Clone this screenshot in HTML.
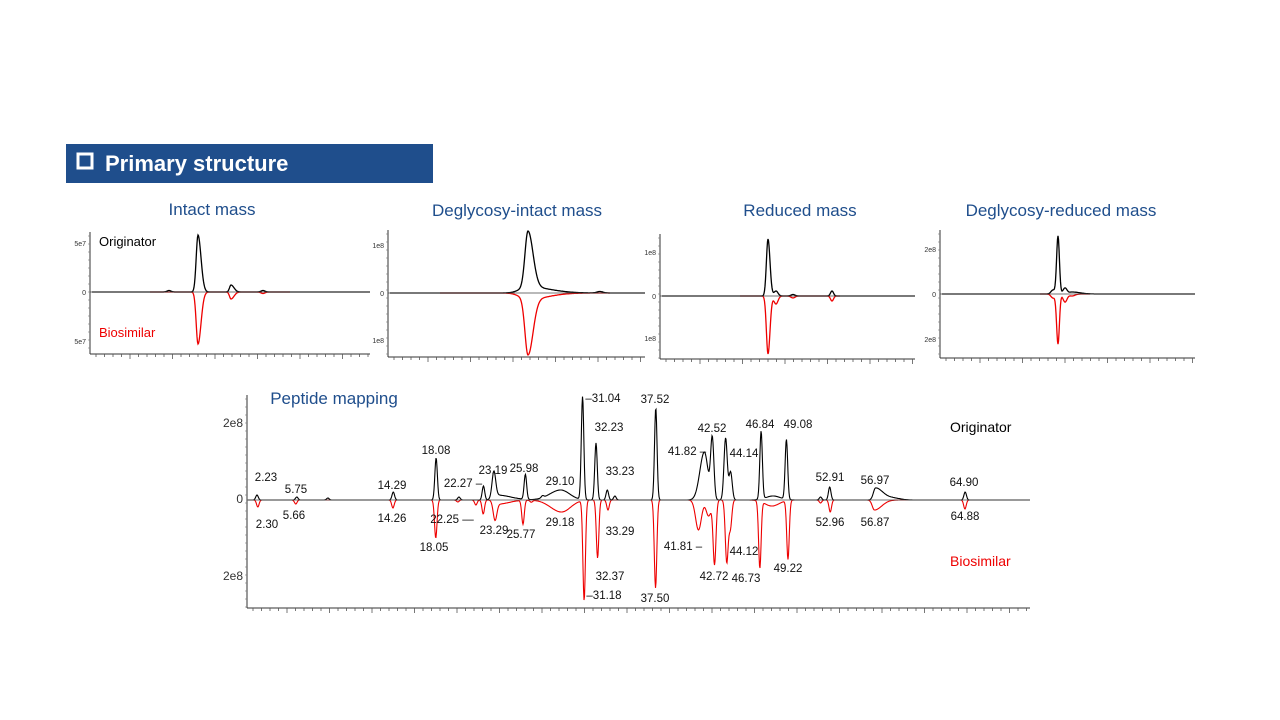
<!DOCTYPE html>
<html><head><meta charset="utf-8"><style>
body{margin:0;background:#fff;width:1280px;height:720px;overflow:hidden;font-family:"Liberation Sans","Noto Sans CJK SC",sans-serif}
svg{position:absolute;left:0;top:0}
</style></head><body>
<svg id="s" width="1280" height="720" xmlns="http://www.w3.org/2000/svg" font-family="Liberation Sans, sans-serif">
<rect x="66" y="144" width="367" height="39" fill="#1F4E8C"/>
<rect x="78" y="154" width="14" height="14" fill="none" stroke="#fff" stroke-width="3"/>
<text x="105" y="171" fill="#fff" font-size="22" font-weight="bold">Primary structure</text>
<g fill="#1F4E8C" font-size="17" text-anchor="middle">
<text x="212" y="215">Intact mass</text>
<text x="517" y="216">Deglycosy-intact mass</text>
<text x="800" y="216">Reduced mass</text>
<text x="1061" y="216">Deglycosy-reduced mass</text>
<text x="334" y="404" text-anchor="middle">Peptide mapping</text>
</g>
<text x="99" y="246" font-size="13" fill="#000">Originator</text>
<text x="99" y="337" font-size="13" fill="#e00">Biosimilar</text>
<text x="950" y="432" font-size="14" fill="#000">Originator</text>
<text x="950" y="566" font-size="14" fill="#e00">Biosimilar</text>
<g id="g"></g>
</svg>
<script>
var g=document.getElementById('g'),NS='http://www.w3.org/2000/svg';
function el(t,a,txt){var e=document.createElementNS(NS,t);for(var k in a)e.setAttribute(k,a[k]);if(txt)e.textContent=txt;g.appendChild(e);return e;}
function trace(x0,x1,base,peaks,sign,color,sw){
 var d='';for(var x=x0;x<=x1;x+=0.5){var y=0;peaks.forEach(function(p){var w=x<p[0]?p[2]:(p[3]||p[2]);var u=(x-p[0])/w;y+=p[1]*Math.exp(-u*u/2);});d+=(d?'L':'M')+x.toFixed(1)+' '+(base-sign*y).toFixed(1);}
 el('path',{d:d,fill:'none',stroke:color,'stroke-width':sw||1.3});
}
function axes(ax,yt,yb,xe,base,labs,lab){
 el('line',{x1:ax,y1:yt,x2:ax,y2:yb,stroke:'#333','stroke-width':1});
 el('line',{x1:ax,y1:yb,x2:xe,y2:yb,stroke:'#333','stroke-width':1});
 for(var x=ax+6;x<xe;x+=8.5)el('line',{x1:x,y1:yb,x2:x,y2:yb+(Math.round((x-ax)/8.5)%5==0?5:3),stroke:'#555','stroke-width':0.8});
 for(var y=yt+4;y<yb;y+=8)el('line',{x1:ax-2,y1:y,x2:ax,y2:y,stroke:'#777','stroke-width':0.6});
 labs.forEach(function(l){el('text',{x:ax-4,y:l[0]+3,'font-size':lab||7,'text-anchor':'end',fill:'#333'},l[1]);});
}
// small charts
axes(90,232,354,370,292,[[243,'5e7'],[292,'0'],[341,'5e7']]);
trace(150,290,292,[[198,52,1.8,3],[231,7,1.5,3],[263,1.5,2]],-1,'#e00');
trace(92,370,292,[[198,57,1.8,3],[231,7,1.5,3],[169,1.5,2],[263,1.5,2]],1,'#000');
el('line',{x1:90,y1:292,x2:370,y2:292,stroke:'#444','stroke-width':0.8});
axes(388,230,357,645,293,[[245,'1e8'],[293,'0'],[340,'1e8']]);
trace(440,610,293,[[528,56,3,5],[528,6,8,20]],-1,'#e00');
trace(390,645,293,[[528,56,3,5],[528,6,8,22],[600,1.5,3]],1,'#000');
el('line',{x1:388,y1:293,x2:645,y2:293,stroke:'#444','stroke-width':0.8});
axes(660,234,359,915,296,[[252,'1e8'],[296,'0'],[338,'1e8']]);
trace(740,840,296,[[768,58,1.6,2],[776,8,2],[793,2,2],[832,5,1.5]],-1,'#e00');
trace(662,915,296,[[768,57,1.6,2],[776,5,2],[793,1.5,2],[832,5,1.5]],1,'#000');
el('line',{x1:660,y1:296,x2:915,y2:296,stroke:'#444','stroke-width':0.8});
axes(940,230,358,1195,294,[[249,'2e8'],[294,'0'],[339,'2e8']]);
trace(1040,1090,294,[[1058,50,1.4,1.4],[1053,4,2],[1065,8,2],[1072,2,3]],-1,'#e00');
trace(942,1195,294,[[1058,58,1.4,1.4],[1053,4,2],[1065,6,2],[1072,2,3,8]],1,'#000');
el('line',{x1:940,y1:294,x2:1195,y2:294,stroke:'#444','stroke-width':0.8});
// peptide
axes(247,395,608,1030,500,[[424,'2e8'],[500,'0'],[577,'2e8']],12);
function X(t){return 257+(t-2.23)*11.3;}
var up=[[2.23,5],[5.75,3],[8.5,2],[14.29,8],[18.08,42],[20.1,3],[22.27,14],[23.19,25,1,1],[23.4,5,2,8],[25.98,25],[27.5,2],[29.1,10,6,5],[31.04,103],[32.23,57],[33.23,10],[33.9,4],[37.52,92],[41.82,48,2.5,2],[42.52,60,0.9],[43.7,62,0.9],[44.14,28,0.9],[46.84,68],[47.9,4,4],[49.08,60],[52.1,3],[52.91,13],[56.97,12,1.2,4],[58.5,2,4],[64.9,8]];
var dn=[[2.3,7],[5.66,4],[14.26,8],[18.05,38],[20,2],[21.6,5],[22.25,14],[23.29,18,1,1],[23.6,4,2,6],[25.77,24],[26.5,2],[29.18,12,6,5],[31.18,100],[32.37,58],[33.29,10],[37.5,88],[41.3,30,1.6,1.6],[42.2,16,1.4],[42.72,64,0.8],[43.8,62,0.8],[44.12,28,0.8],[46.73,67],[47.8,6,4],[49.22,59],[52.96,12],[52.1,3],[56.87,10,1.2,4],[64.88,9]];
function conv(a){return a.map(function(p){var w=p[2]||0.7,w2=p[3]||w;return [X(p[0]),p[1],w*1.8,w2*1.8];});}
trace(248,1030,500,conv(dn),-1,'#e00',1.1);
trace(248,1030,500,conv(up),1,'#000',1.1);
el('line',{x1:247,y1:500,x2:1030,y2:500,stroke:'#444','stroke-width':0.8});
var lab=[["2.23",266,481],["5.75",296,493],["14.29",392,489],["18.08",436,454],["22.27 –",463,487],["23.19",493,474],["25.98",524,472],["29.10",560,485],["–31.04",603,402],["32.23",609,431],["33.23",620,475],["37.52",655,403],["41.82 –",687,455],["42.52",712,432],["44.14",744,457],["46.84",760,428],["49.08",798,428],["52.91",830,481],["56.97",875,484],["64.90",964,486],
["2.30",267,528],["5.66",294,519],["14.26",392,522],["18.05",434,551],["22.25 —",452,523],["23.29",494,534],["25.77",521,538],["29.18",560,526],["–31.18",604,599],["32.37",610,580],["33.29",620,535],["37.50",655,602],["41.81 –",683,550],["44.12",744,555],["42.72",714,580],["46.73",746,582],["49.22",788,572],["52.96",830,526],["56.87",875,526],["64.88",965,520]];
lab.forEach(function(l){el('text',{x:l[1],y:l[2],'font-size':11.5,'text-anchor':'middle',fill:'#111'},l[0]);});
</script>
</body></html>
